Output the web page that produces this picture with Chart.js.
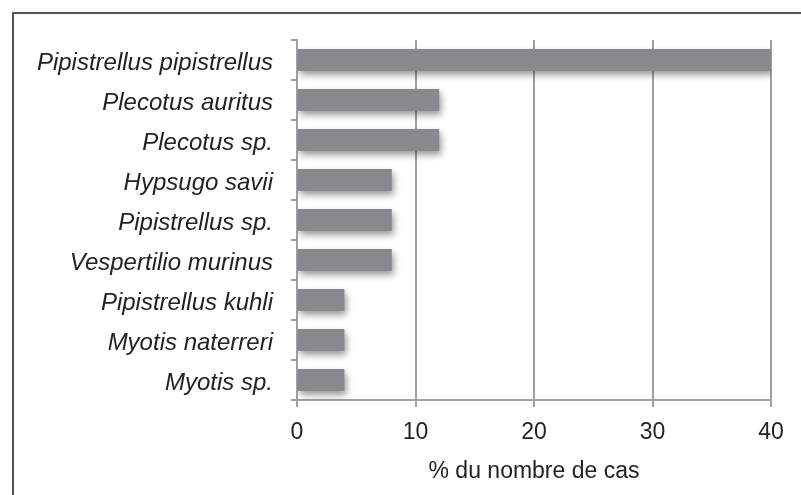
<!DOCTYPE html>
<html>
<head>
<meta charset="utf-8">
<script src="https://cdn.jsdelivr.net/npm/chart.js@4/dist/chart.umd.min.js"></script>
<style>
  html, body { margin: 0; padding: 0; background: #fff; }
  #wrap { position: relative; width: 801px; height: 495px; }
  #frame { position: absolute; left: 12px; top: 12px; right: 0; bottom: 0;
           border-top: 2px solid #555; border-left: 2px solid #555; }
  canvas { position: absolute; left: 0; top: 0; }
</style>
</head>
<body>
<div id="wrap">
  <div id="frame"></div>
  <canvas id="myChart" width="801" height="495"></canvas>
</div>
<script>
// Données
var especes = ["Pipistrellus pipistrellus", "Plecotus auritus", "Plecotus sp.", "Hypsugo savii",
  "Pipistrellus sp.", "Vespertilio murinus", "Pipistrellus kuhli", "Myotis naterreri", "Myotis sp."];
var pourcentages = [40, 12, 12, 8, 8, 8, 4, 4, 4];
var ticksX = [0, 10, 20, 30, 40];

var gris = '#9fa0a4';

// ombre sous les barres
var ombre = {
  id: 'ombre',
  beforeDatasetsDraw: function (chart) {
    var ctx = chart.ctx;
    ctx.save();
    ctx.shadowColor = 'rgba(0,0,0,0.4)';
    ctx.shadowBlur = 7;
    ctx.shadowOffsetX = 2;
    ctx.shadowOffsetY = 4;
  },
  afterDatasetsDraw: function (chart) {
    chart.ctx.restore();
  }
};

var config = {
  type: 'bar',
  data: {
    labels: especes,
    datasets: [{
      data: pourcentages,
      backgroundColor: '#88898d',
      borderWidth: 0,
      barPercentage: 0.55,
      categoryPercentage: 1
    }]
  },
  plugins: [ombre],
  options: {
    indexAxis: 'y',
    responsive: false,
    animation: false,
    layout: { padding: { top: 40, right: 30, left: 0, bottom: 0 } },
    plugins: { legend: { display: false }, tooltip: { enabled: false } },
    scales: {
      x: {
        min: 0, max: 40, z: 1,
        afterBuildTicks: function (s) { s.ticks = ticksX.map(function (v) { return { value: v }; }); },
        afterFit: function (s) { s.height = 95; },
        grid: { color: gris, lineWidth: 2, tickLength: 7, tickColor: gris },
        border: { color: gris, width: 2 },
        ticks: { color: '#222', padding: 12, font: { family: 'Liberation Sans', size: 23 } },
        title: { display: true, text: '% du nombre de cas', color: '#222', padding: { top: 4, bottom: 10 },
                 font: { family: 'Liberation Sans', size: 23 } }
      },
      y: {
        z: 1,
        afterFit: function (s) { s.width = 297; },
        grid: { drawOnChartArea: false, tickLength: 6, tickColor: gris, lineWidth: 2 },
        border: { color: gris, width: 2 },
        ticks: { color: '#222', padding: 18, labelOffset: 3,
                 font: { family: 'Liberation Sans', size: 24, style: 'italic' } }
      }
    }
  }
};

var myChart = new Chart(document.getElementById('myChart'), config);
</script>
</body>
</html>
